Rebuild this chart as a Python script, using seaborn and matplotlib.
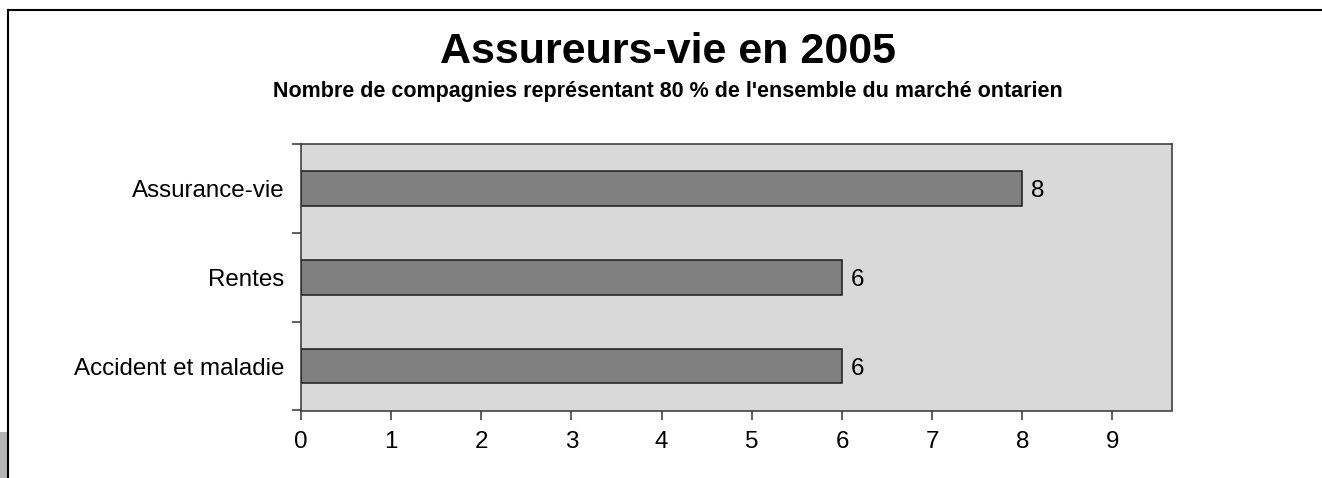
import matplotlib
matplotlib.use("Agg")
import matplotlib.pyplot as plt
from matplotlib.patches import Rectangle
from matplotlib.lines import Line2D
from matplotlib.ticker import FixedLocator
import seaborn as sns
import pandas as pd

categories = ["Assurance-vie", "Rentes", "Accident et maladie"]
values = [8, 6, 6]
x_ticks = [0, 1, 2, 3, 4, 5, 6, 7, 8, 9]
title = "Assureurs-vie en 2005"
subtitle = "Nombre de compagnies représentant 80 % de l'ensemble du marché ontarien"

plt.rcParams["font.family"] = ["Liberation Sans", "DejaVu Sans"]

df = pd.DataFrame({"categorie": categories, "valeur": values})

fig = plt.figure(figsize=(13.22, 4.78), dpi=100)
ax = fig.add_axes([301 / 1322, 1 - 410.5 / 478, (1172 - 301) / 1322, (410.5 - 144) / 478])
ax.set_facecolor("#d9d9d9")

sns.barplot(data=df, x="valeur", y="categorie", orient="h", color="#808080",
            saturation=1, edgecolor="#1a1a1a", linewidth=1.1, width=0.39, ax=ax)

for c in ax.containers:
    texts = ax.bar_label(c, labels=[str(v) for v in values], padding=6.5, fontsize=17.4, color="black")
    for t in texts:
        t.set_va("center_baseline")

ax.set_xlim(0, 9.66)
ax.set_ylim(2.5, -0.5)
ax.set_xticks(x_ticks)
ax.set_xticklabels([str(t) for t in x_ticks])
ax.set_xlabel("")
ax.set_ylabel("")
ax.yaxis.set_minor_locator(FixedLocator([-0.5, 0.5, 1.5, 2.5]))
ax.tick_params(axis="y", which="major", length=0, pad=12, labelsize=17.4, labelcolor="black")
ax.tick_params(axis="y", which="minor", length=6.5, width=1.1, color="#333333", direction="out")
ax.tick_params(axis="x", which="major", length=6.5, width=1.1, color="#333333", direction="out",
               pad=8, labelsize=17.4, labelcolor="black")
for s in ax.spines.values():
    s.set_visible(True)
    s.set_color("#333333")
    s.set_linewidth(1.1)
ax.grid(False)

fig.text(667.5 / 1322, 1 - 63 / 478, title, ha="center", va="baseline",
         fontsize=31, fontweight="bold", color="black")
fig.text(667.5 / 1322, 1 - 97 / 478, subtitle, ha="center", va="baseline",
         fontsize=15.5, fontweight="bold", color="black")

# page frame
fig.add_artist(Line2D([7.5 / 1322, 7.5 / 1322], [0, 1 - 9.5 / 478], color="black", lw=1.5,
                      transform=fig.transFigure))
fig.add_artist(Line2D([7.5 / 1322, 1], [1 - 9.5 / 478, 1 - 9.5 / 478], color="black", lw=1.5,
                      transform=fig.transFigure))
fig.add_artist(Rectangle((0, 0), 6.5 / 1322, 46 / 478, facecolor="#b4b4b4", edgecolor="none",
                         transform=fig.transFigure))

fig.savefig("out.png", dpi=100)
